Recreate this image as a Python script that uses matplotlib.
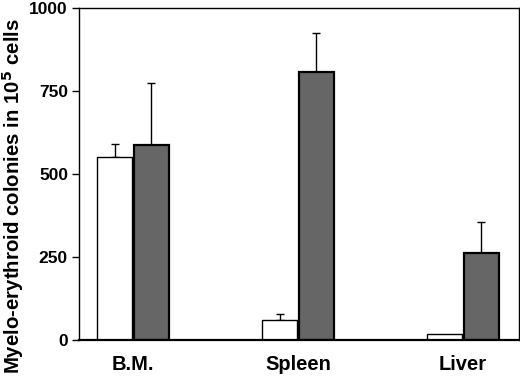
import matplotlib
matplotlib.use("Agg")
import matplotlib.pyplot as plt
import numpy as np

plt.rcParams['font.family'] = ['Liberation Sans', 'DejaVu Sans']

categories = ["B.M.", "Spleen", "Liver"]
white_vals = [552, 60, 18]
white_err = [38, 17, 0]
gray_vals = [587, 806, 261]
gray_err = [187, 118, 93]
yticks = [0, 250, 500, 750, 1000]

fig = plt.figure(figsize=(5.2, 3.77), dpi=100)
ax = fig.add_axes([0.152, 0.098, 0.846, 0.881])

x = np.arange(len(categories))
w = 0.212
wx = x - w / 2 - 0.005
gx = x + w / 2 + 0.005
ax.bar(wx, white_vals, w, color="white", edgecolor="black", linewidth=1.0, zorder=2)
ax.bar(gx, gray_vals, w, color="#666666", edgecolor="black", linewidth=1.6, zorder=2)
for i in range(len(categories)):
    if white_err[i] > 0:
        ax.errorbar(wx[i], white_vals[i], yerr=[[0], [white_err[i]]], fmt="none",
                    ecolor="black", elinewidth=1.0, capsize=3, capthick=1.0, zorder=1)
    if gray_err[i] > 0:
        ax.errorbar(gx[i], gray_vals[i], yerr=[[0], [gray_err[i]]], fmt="none",
                    ecolor="black", elinewidth=1.0, capsize=3, capthick=1.0, zorder=1)

ax.set_xlim(-0.327, 2.34)
ax.set_ylim(0, 1000)
ax.set_yticks(yticks)
ax.set_yticklabels([str(t) for t in yticks], fontsize=12.5, fontweight="bold")
ax.set_xticks(x)
ax.set_xticklabels(categories, fontsize=14.5, fontweight="bold")
ax.tick_params(axis="x", length=0, pad=11)
ax.tick_params(axis="y", length=5, width=1.0, pad=3)
for s in ax.spines.values():
    s.set_linewidth(1.0)
ax.spines["bottom"].set_linewidth(1.6)
fig.text(0.025, 0.48, "Myelo-erythroid colonies in 10$^\\mathbf{5}$ cells",
         fontsize=14.7, fontweight="bold", rotation=90, ha="center", va="center")

fig.savefig("out.png", dpi=100)
